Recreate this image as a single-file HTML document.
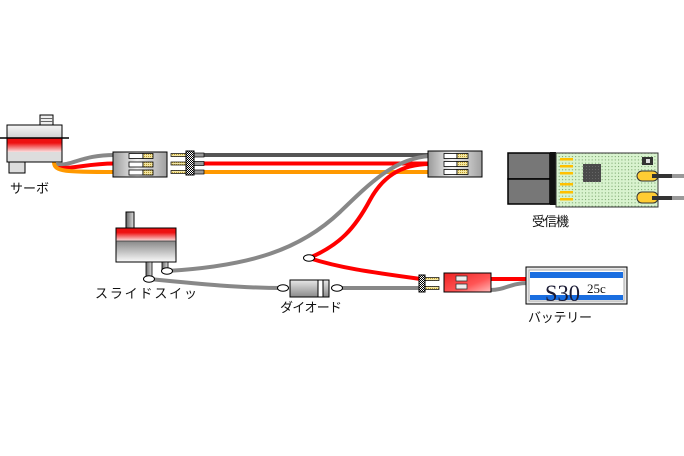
<!DOCTYPE html>
<html><head><meta charset="utf-8">
<style>
html,body{margin:0;padding:0;background:#fff;}
svg{display:block;}
text.l{font-family:"Liberation Sans","Noto Sans CJK JP",sans-serif;font-size:13px;fill:#111;}
</style></head>
<body>
<svg width="684" height="456" viewBox="0 0 684 456" xmlns="http://www.w3.org/2000/svg">
<defs>
  <linearGradient id="conn" x1="0" y1="0" x2="1" y2="0">
    <stop offset="0" stop-color="#9a9a9a"/>
    <stop offset="0.45" stop-color="#f2f2f2"/>
    <stop offset="1" stop-color="#a0a0a0"/>
  </linearGradient>
  <linearGradient id="redv" x1="0" y1="0" x2="0" y2="1">
    <stop offset="0" stop-color="#ee1111"/>
    <stop offset="0.35" stop-color="#ee1111"/>
    <stop offset="1" stop-color="#fbe0e0"/>
  </linearGradient>
  <linearGradient id="redc" x1="0" y1="0" x2="1" y2="1">
    <stop offset="0" stop-color="#ee2222"/>
    <stop offset="0.6" stop-color="#f55"/>
    <stop offset="1" stop-color="#fbb"/>
  </linearGradient>
  <linearGradient id="grayv" x1="0" y1="0" x2="0" y2="1">
    <stop offset="0" stop-color="#888"/>
    <stop offset="1" stop-color="#fafafa"/>
  </linearGradient>
  <linearGradient id="lightv" x1="0" y1="0" x2="0" y2="1">
    <stop offset="0" stop-color="#f6f6f6"/>
    <stop offset="1" stop-color="#d0d0d0"/>
  </linearGradient>
  <linearGradient id="diode" x1="0" y1="0" x2="0" y2="1">
    <stop offset="0" stop-color="#e8e8e8"/>
    <stop offset="1" stop-color="#8a8a8a"/>
  </linearGradient>
  <linearGradient id="knob" x1="0" y1="0" x2="1" y2="0">
    <stop offset="0" stop-color="#666"/>
    <stop offset="1" stop-color="#ddd"/>
  </linearGradient>
  <pattern id="chk" width="2" height="2" patternUnits="userSpaceOnUse">
    <rect width="2" height="2" fill="#fff"/>
    <rect width="1" height="1" fill="#000"/>
    <rect x="1" y="1" width="1" height="1" fill="#000"/>
  </pattern>
  <pattern id="gold" width="2" height="2" patternUnits="userSpaceOnUse">
    <rect width="2" height="2" fill="#f4e6a0"/>
    <rect width="1" height="1" fill="#b89a30"/>
  </pattern>
  <pattern id="dots" width="3.3" height="3.3" patternUnits="userSpaceOnUse">
    <rect width="3.3" height="3.3" fill="#d9f3cf"/>
    <rect x="1" y="1" width="1" height="1" fill="#6c9a60"/>
  </pattern>
  <pattern id="chipdots" width="3" height="3" patternUnits="userSpaceOnUse">
    <rect width="3" height="3" fill="#4a4a4a"/>
    <rect x="1" y="1" width="1" height="1" fill="#666"/>
  </pattern>
</defs>

<!-- ===== wires ===== -->
<!-- long straight harness -->
<line x1="200" y1="155" x2="432" y2="155" stroke="#555" stroke-width="4"/>
<line x1="200" y1="163.5" x2="432" y2="163.5" stroke="#f00" stroke-width="4"/>
<line x1="200" y1="172" x2="432" y2="172" stroke="#ff9900" stroke-width="4"/>

<!-- servo leads -->
<path d="M56,165 C 75,165 82,155 115,155" fill="none" stroke="#888" stroke-width="4"/>
<path d="M58,168 C 76,169 86,163.5 115,163.5" fill="none" stroke="#f00" stroke-width="4"/>
<path d="M54,162 C 54,172 66,172 115,172" fill="none" stroke="#ff9900" stroke-width="4"/>

<!-- gray curve switch -> receiver connector -->
<path d="M167,271 C 250,266 300,250 340,212 C 370,183 395,158 430,156" fill="none" stroke="#888" stroke-width="4"/>
<!-- red curve junction -> receiver connector -->
<path d="M309,258 C 340,245 355,228 370,200 C 382,178 400,164 430,164" fill="none" stroke="#f00" stroke-width="4"/>
<!-- red junction -> battery connector -->
<path d="M309,258 C 340,268 370,272 421,279" fill="none" stroke="#f00" stroke-width="4"/>
<!-- gray switch -> diode -->
<path d="M149,279 C 200,284 240,288 283,288" fill="none" stroke="#888" stroke-width="4"/>
<!-- gray diode -> connector -->
<line x1="337" y1="288" x2="421" y2="288" stroke="#888" stroke-width="4"/>
<!-- battery leads -->
<line x1="490" y1="279" x2="528" y2="279" stroke="#f00" stroke-width="4"/>
<path d="M490,290 C 506,290 510,283 528,283" fill="none" stroke="#888" stroke-width="4"/>
<!-- receiver antenna leads -->
<line x1="650" y1="176" x2="672" y2="176" stroke="#333" stroke-width="4"/>
<line x1="672" y1="176" x2="684" y2="176" stroke="#999" stroke-width="4"/>
<line x1="650" y1="198" x2="672" y2="198" stroke="#333" stroke-width="4"/>
<line x1="672" y1="198" x2="684" y2="198" stroke="#999" stroke-width="4"/>

<!-- ===== servo ===== -->
<rect x="40" y="115" width="13" height="10" fill="#eee" stroke="#000" stroke-width="1"/>
<line x1="40" y1="118.5" x2="53" y2="118.5" stroke="#666" stroke-width="1"/>
<line x1="40" y1="121.5" x2="53" y2="121.5" stroke="#666" stroke-width="1"/>
<rect x="9" y="162" width="16" height="11" fill="#ddd" stroke="#000" stroke-width="1"/>
<rect x="7" y="125" width="55" height="13" fill="url(#lightv)"/>
<rect x="7" y="138" width="55" height="14" fill="url(#redv)"/>
<rect x="7" y="152" width="55" height="10" fill="#ddd"/>
<rect x="7" y="125" width="55" height="37" fill="none" stroke="#000" stroke-width="1"/>
<line x1="0" y1="138" x2="69" y2="138" stroke="#000" stroke-width="1.6"/>
<text class="l" x="10" y="193" textLength="39" lengthAdjust="spacing">サーボ</text>

<!-- ===== connector 1 (female) ===== -->
<rect x="113" y="152" width="54" height="25" fill="url(#conn)" stroke="#000" stroke-width="1"/>
<g stroke="#000" stroke-width="0.8">
  <rect x="129" y="153.5" width="14" height="5" fill="#fff"/>
  <rect x="143" y="153.5" width="10" height="5" fill="url(#gold)"/>
  <rect x="129" y="162" width="14" height="5" fill="#fff"/>
  <rect x="143" y="162" width="10" height="5" fill="url(#gold)"/>
  <rect x="129" y="170" width="14" height="5" fill="#fff"/>
  <rect x="143" y="170" width="10" height="5" fill="url(#gold)"/>
</g>

<!-- ===== male header 1 ===== -->
<g stroke="#000" stroke-width="0.7">
  <rect x="171" y="153.5" width="16" height="3" fill="url(#gold)"/>
  <rect x="171" y="162" width="16" height="3" fill="url(#gold)"/>
  <rect x="171" y="170.5" width="16" height="3" fill="url(#gold)"/>
  <rect x="193" y="153" width="11" height="4" fill="#999"/>
  <rect x="193" y="161.5" width="11" height="4" fill="#999"/>
  <rect x="193" y="170" width="11" height="4" fill="#999"/>
  <rect x="186" y="151" width="8" height="24" fill="url(#chk)" stroke-width="1"/>
</g>

<!-- ===== connector 2 (receiver side) ===== -->
<rect x="428" y="151" width="54" height="26" fill="url(#conn)" stroke="#000" stroke-width="1"/>
<g stroke="#000" stroke-width="0.8">
  <rect x="444" y="153.5" width="13" height="5" fill="#fff"/>
  <rect x="457" y="153.5" width="11" height="5" fill="url(#gold)"/>
  <rect x="444" y="161.5" width="13" height="5" fill="#fff"/>
  <rect x="457" y="161.5" width="11" height="5" fill="url(#gold)"/>
  <rect x="444" y="169.5" width="13" height="5" fill="#fff"/>
  <rect x="457" y="169.5" width="11" height="5" fill="url(#gold)"/>
</g>

<!-- ===== receiver ===== -->
<rect x="508" y="153" width="42" height="26" fill="#777" stroke="#000" stroke-width="1.5"/>
<rect x="508" y="179" width="42" height="25" fill="#777" stroke="#000" stroke-width="1.5"/>
<rect x="550" y="152" width="6" height="53" fill="#111"/>
<rect x="556" y="153" width="102" height="54" fill="url(#dots)" stroke="#333" stroke-width="1"/>
<g fill="#ffc000">
  <rect x="560" y="158" width="13" height="2.5"/>
  <rect x="560" y="165" width="13" height="2.5"/>
  <rect x="560" y="172" width="13" height="2.5"/>
  <rect x="560" y="183" width="13" height="2.5"/>
  <rect x="560" y="191" width="13" height="2.5"/>
  <rect x="560" y="198" width="13" height="2.5"/>
</g>
<rect x="583" y="164" width="18" height="18" fill="url(#chipdots)"/>
<rect x="642" y="157" width="11" height="8" fill="#333"/>
<rect x="646" y="159" width="4" height="4" fill="#ddd"/>
<rect x="637" y="171" width="21" height="10" rx="5" fill="#ffcc33" stroke="#333" stroke-width="1"/>
<rect x="637" y="192" width="21" height="11" rx="5" fill="#ffcc33" stroke="#333" stroke-width="1"/>
<line x1="652" y1="176" x2="660" y2="176" stroke="#333" stroke-width="4"/>
<line x1="652" y1="198" x2="660" y2="198" stroke="#333" stroke-width="4"/>
<text class="l" x="532" y="226" textLength="37" lengthAdjust="spacing">受信機</text>

<!-- ===== slide switch ===== -->
<rect x="126" y="212" width="8" height="16" fill="url(#knob)" stroke="#000" stroke-width="1"/>
<rect x="116" y="228" width="60" height="13" fill="url(#redv)"/>
<rect x="116" y="241" width="60" height="21" fill="url(#grayv)"/>
<rect x="116" y="228" width="60" height="34" fill="none" stroke="#000" stroke-width="1"/>
<line x1="116" y1="241" x2="176" y2="241" stroke="#333" stroke-width="0.8"/>
<rect x="146" y="262" width="6" height="16" fill="url(#knob)" stroke="#000" stroke-width="0.8"/>
<rect x="162" y="262" width="6" height="10" fill="url(#knob)" stroke="#000" stroke-width="0.8"/>
<ellipse cx="167" cy="271" rx="5.5" ry="3.2" fill="#fff" stroke="#000" stroke-width="1"/>
<ellipse cx="149" cy="279" rx="5.5" ry="3.2" fill="#fff" stroke="#000" stroke-width="1"/>
<text class="l" x="95" y="298" textLength="102" lengthAdjust="spacing">スライドスイッ</text>

<!-- ===== diode ===== -->
<rect x="290" y="280" width="39" height="17" fill="url(#diode)" stroke="#000" stroke-width="1"/>
<rect x="318" y="280" width="5" height="17" fill="#fff" stroke="#000" stroke-width="1"/>
<ellipse cx="283" cy="288" rx="5.5" ry="3.2" fill="#fff" stroke="#000" stroke-width="1"/>
<ellipse cx="337" cy="288" rx="5.5" ry="3.2" fill="#fff" stroke="#000" stroke-width="1"/>
<text class="l" x="280" y="312" textLength="62" lengthAdjust="spacing">ダイオード</text>

<!-- junction -->
<ellipse cx="309" cy="258" rx="5.5" ry="3.2" fill="#fff" stroke="#000" stroke-width="1"/>

<!-- ===== male header 2 ===== -->
<g stroke="#000" stroke-width="0.7">
  <rect x="425" y="277.5" width="14" height="3" fill="url(#gold)"/>
  <rect x="425" y="286.5" width="14" height="3" fill="url(#gold)"/>
  <rect x="419" y="275" width="6" height="17" fill="url(#chk)" stroke-width="1"/>
</g>

<!-- ===== red connector ===== -->
<rect x="444" y="273" width="47" height="19" fill="url(#redc)" stroke="#000" stroke-width="1"/>
<rect x="456" y="276" width="11" height="5" fill="#eee" stroke="#333" stroke-width="0.8"/>
<rect x="456" y="284" width="11" height="5" fill="#eee" stroke="#333" stroke-width="0.8"/>

<!-- ===== battery ===== -->
<rect x="526" y="267" width="101" height="37" fill="#e8e8e8" stroke="#000" stroke-width="1"/>
<rect x="529" y="270" width="95" height="31" fill="#fff" stroke="#aaa" stroke-width="1"/>
<rect x="530" y="272" width="93" height="6" fill="#1a6ee0"/>
<rect x="530" y="295" width="93" height="5" fill="#1a6ee0"/>
<text x="545" y="301" font-family="Liberation Serif, serif" font-size="23" fill="#1a1a33" textLength="35" lengthAdjust="spacingAndGlyphs">S30</text>
<text x="587" y="293" font-family="Liberation Serif, serif" font-size="13" fill="#111">25c</text>
<text class="l" x="528" y="322" textLength="64" lengthAdjust="spacing">バッテリー</text>
</svg>
</body></html>
